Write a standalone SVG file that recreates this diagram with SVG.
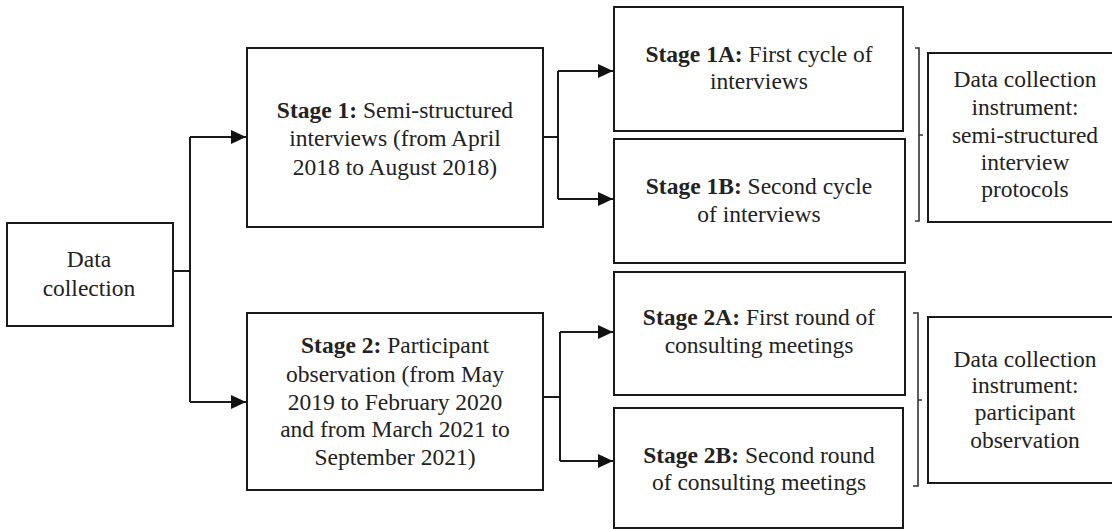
<svg xmlns="http://www.w3.org/2000/svg" width="1112" height="529" viewBox="0 0 1112 529">
  <style>
    .box { fill: #ffffff; stroke: #1a1a1a; stroke-width: 2; }
    .lbl { font-family: "Liberation Serif", Tinos, "Times New Roman", Times, "Noto Serif", "DejaVu Serif", FreeSerif, serif; font-size: 23.5px; fill: #222222; text-anchor: middle; }
    .lbl .b { font-weight: bold; }
    .wire { fill: none; stroke: #1a1a1a; stroke-width: 2; }
    .brace { fill: none; stroke: #333333; stroke-width: 1.6; }
  </style>
  <defs>
    <marker id="arrow" markerUnits="userSpaceOnUse" markerWidth="16" markerHeight="14" refX="15" refY="7" orient="auto">
      <path d="M0,0 L15,7 L0,14 Z" fill="#111111"/>
    </marker>
  </defs>

  <rect width="1112" height="529" fill="#ffffff"/>

  <!-- connectors -->
  <g id="connectors">
    <path class="wire" d="M173,271 H190 M190,137 V402"/>
    <path class="wire" d="M190,137 H246" marker-end="url(#arrow)"/>
    <path class="wire" d="M190,402 H246" marker-end="url(#arrow)"/>

    <path class="wire" d="M543,137 H558 M558,71 V199"/>
    <path class="wire" d="M558,71 H613" marker-end="url(#arrow)"/>
    <path class="wire" d="M558,199 H613" marker-end="url(#arrow)"/>

    <path class="wire" d="M543,397 H560 M560,332 V461"/>
    <path class="wire" d="M560,332 H613" marker-end="url(#arrow)"/>
    <path class="wire" d="M560,461 H613" marker-end="url(#arrow)"/>

    <path class="brace" d="M915,48 H919 V221 H915 M919,135 H923"/>
    <path class="brace" d="M913,313 H918 V486 H913 M918,400 H922"/>
  </g>

  <!-- root -->
  <g id="data-collection">
    <rect class="box" x="7" y="223" width="166" height="103"/>
    <text class="lbl" x="89" y="267">Data</text>
    <text class="lbl" x="89" y="296">collection</text>
  </g>

  <!-- stage 1 -->
  <g id="stage-1">
    <rect class="box" x="247" y="48" width="296" height="179"/>
    <text class="lbl" x="395" y="118"><tspan class="b">Stage 1:</tspan> Semi-structured</text>
    <text class="lbl" x="395" y="146">interviews (from April</text>
    <text class="lbl" x="395" y="175">2018 to August 2018)</text>
  </g>

  <g id="stage-1a">
    <rect class="box" x="614" y="7" width="289" height="124"/>
    <text class="lbl" x="759" y="62"><tspan class="b">Stage 1A:</tspan> First cycle of</text>
    <text class="lbl" x="759" y="89">interviews</text>
  </g>

  <g id="stage-1b">
    <rect class="box" x="614" y="139" width="291" height="124"/>
    <text class="lbl" x="759" y="194"><tspan class="b">Stage 1B:</tspan> Second cycle</text>
    <text class="lbl" x="759" y="222">of interviews</text>
  </g>

  <g id="instrument-1">
    <rect class="box" x="928" y="53" width="200" height="169"/>
    <text class="lbl" x="1025" y="87">Data collection</text>
    <text class="lbl" x="1025" y="115">instrument:</text>
    <text class="lbl" x="1025" y="143">semi-structured</text>
    <text class="lbl" x="1025" y="170">interview</text>
    <text class="lbl" x="1025" y="197">protocols</text>
  </g>

  <!-- stage 2 -->
  <g id="stage-2">
    <rect class="box" x="247" y="313" width="296" height="177"/>
    <text class="lbl" x="395" y="353"><tspan class="b">Stage 2:</tspan> Participant</text>
    <text class="lbl" x="395" y="382">observation (from May</text>
    <text class="lbl" x="395" y="410">2019 to February 2020</text>
    <text class="lbl" x="395" y="437">and from March 2021 to</text>
    <text class="lbl" x="395" y="465">September 2021)</text>
  </g>

  <g id="stage-2a">
    <rect class="box" x="614" y="272" width="291" height="123"/>
    <text class="lbl" x="759" y="325"><tspan class="b">Stage 2A:</tspan> First round of</text>
    <text class="lbl" x="759" y="353">consulting meetings</text>
  </g>

  <g id="stage-2b">
    <rect class="box" x="614" y="408" width="289" height="120"/>
    <text class="lbl" x="759" y="463"><tspan class="b">Stage 2B:</tspan> Second round</text>
    <text class="lbl" x="759" y="490">of consulting meetings</text>
  </g>

  <g id="instrument-2">
    <rect class="box" x="928" y="317" width="200" height="166"/>
    <text class="lbl" x="1025" y="367">Data collection</text>
    <text class="lbl" x="1025" y="393">instrument:</text>
    <text class="lbl" x="1025" y="420">participant</text>
    <text class="lbl" x="1025" y="448">observation</text>
  </g>
</svg>
